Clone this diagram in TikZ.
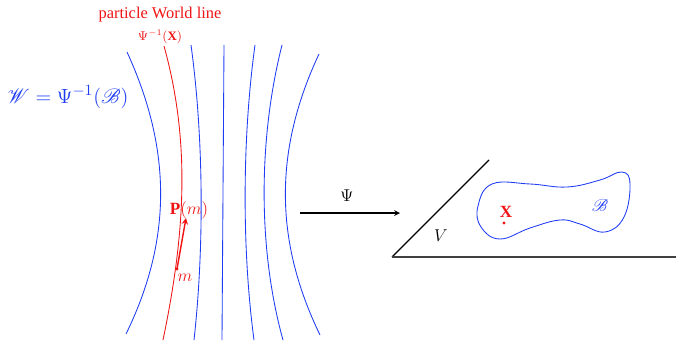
\documentclass[tikz,border=0pt]{standalone}
\usepackage{fontspec}
\setmainfont{Liberation Serif}
\usepackage{mathrsfs}
\usepackage{amsmath}
\definecolor{fblue}{RGB}{30,60,245}
\definecolor{fred}{RGB}{240,20,20}
\begin{document}
\begin{tikzpicture}[x=0.7pt,y=-0.7pt,
  fline/.style={fblue,line width=0.6pt},
  wline/.style={fred,line width=0.6pt},
  lbl/.style={inner sep=0pt}]
\useasboundingbox (0,0) rectangle (676,340);
% world lines (blue)
\draw[fline] (127,52) .. controls (172,150) and (172,240) .. (126,334);
\draw[fline] (191,45) .. controls (204,140) and (204,250) .. (194,340);
\draw[fline] (224,45) -- (222,340);
\draw[fline] (255,45) .. controls (242,140) and (242,250) .. (254,340);
\draw[fline] (282,45) .. controls (258,140) and (258,250) .. (283,340);
\draw[fline] (319,54) .. controls (274,150) and (274,240) .. (320,335);
% particle world line
\draw[wline] (164,46) .. controls (190,140) and (186,230) .. (163,340);
\node[lbl,fred] (pwl) at (160,15) {\fontsize{11.5}{13}\selectfont particle World line};
\node[lbl,fred] (psix) at (160,37) {\small$\Psi^{-1}(\mathbf{X})$};
\node[lbl,fblue] (W) at (68,97) {\fontsize{15}{18}\selectfont$\mathscr{W}=\Psi^{-1}(\mathscr{B})$};
% point m and vector
\fill[fred] (177,269) circle (1.6) coordinate (m);
\coordinate (ptip) at (186,218);
\draw[fred,line width=1pt,-stealth] (m) -- (ptip);
\node[lbl,fred] (Pm) at (189,210) {\large$\mathbf{P}(m)$};
\node[lbl,fred] (mlab) at (185,278) {\large$m$};
% map arrow
\coordinate (a1) at (300,213);
\coordinate (a2) at (400,213);
\draw[black,line width=0.8pt,-stealth] (a1) -- (a2);
\node[lbl] (psi) at (347,196) {\large$\Psi$};
% space V
\coordinate (o) at (392,257);
\coordinate (d) at (489,160);
\coordinate (h) at (676,257);
\draw[black,line width=0.8pt] (d) -- (o);
\draw[black!75,line width=1.2pt] (o) -- (h);
\node[lbl] (V) at (441,236) {\large$V$};
% body B
\draw[fline] plot[smooth cycle,tension=0.7] coordinates {
 (478,206) (492,184) (530,184) (567,187) (600,180) (622,172) (630,184)
 (624,217) (605,232) (580,224) (560,220) (530,228) (500,239) (481,227)};
\node[lbl,fred] (X) at (506,212) {\large$\mathbf{X}$};
\fill[fred] (504,223) circle (1.6);
\node[lbl,fblue] (B) at (600,205) {\large$\mathscr{B}$};
\end{tikzpicture}
\end{document}
